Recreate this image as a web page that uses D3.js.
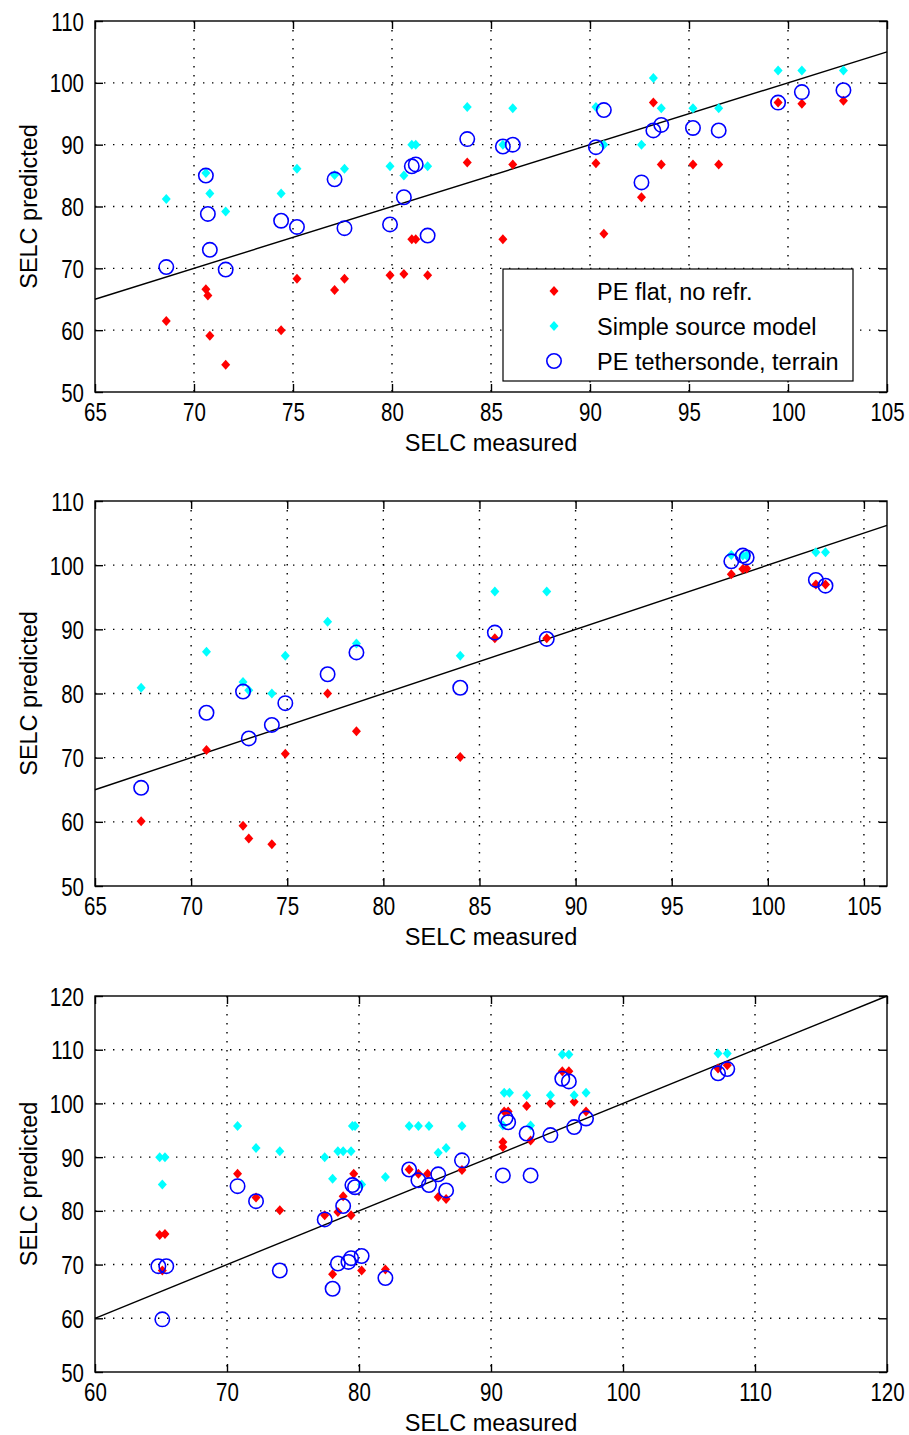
<!DOCTYPE html>
<html>
<head>
<meta charset="utf-8">
<script src="https://cdn.jsdelivr.net/npm/d3@7"></script>
<style>
  body { margin: 0; background: #fff; }
</style>
</head>
<body>
<div id="chart"></div>
<script>
// series names, as in the legend
const seriesNames = ['PE flat, no refr.', 'Simple source model', 'PE tethersonde, terrain'];

// panel 1 : [SELC measured, SELC predicted]
const p1Flat = [[68.6,61.5],[70.6,66.6],[70.7,65.6],[70.8,59.1],[71.6,54.4],[74.4,60.0],[75.2,68.3],[77.1,66.5],[77.6,68.3],[79.9,68.9],[80.6,69.1],[81.0,74.7],[81.2,74.7],[81.8,68.9],[83.8,87.1],[85.6,74.7],[86.1,86.8],[90.3,87.0],[90.7,75.6],[92.6,81.5],[93.2,96.8],[93.6,86.8],[95.2,86.8],[96.5,86.8],[99.5,96.8],[100.7,96.6],[102.8,97.1]];
const p1Simple = [[68.6,81.2],[70.6,85.4],[70.8,82.1],[71.6,79.2],[74.4,82.1],[75.2,86.1],[77.1,85.1],[77.6,86.1],[79.9,86.5],[80.6,85.0],[81.0,90.0],[81.2,90.0],[81.8,86.5],[83.8,96.1],[85.6,90.0],[86.1,95.9],[90.3,96.1],[90.7,90.0],[92.6,90.0],[93.2,100.8],[93.6,95.9],[95.2,95.9],[96.5,95.9],[99.5,102.0],[100.7,102.0],[102.8,102.0]];
const p1Teth = [[68.6,70.2],[70.6,85.0],[70.7,78.8],[70.8,73.0],[71.6,69.8],[74.4,77.7],[75.2,76.7],[77.1,84.4],[77.6,76.5],[79.9,77.1],[80.6,81.5],[81.0,86.5],[81.2,86.8],[81.8,75.3],[83.8,90.9],[85.6,89.7],[86.1,90.0],[90.3,89.6],[90.7,95.6],[92.6,83.9],[93.2,92.3],[93.6,93.2],[95.2,92.7],[96.5,92.3],[99.5,96.8],[100.7,98.5],[102.8,98.8]];

// panel 2
const p2Flat = [[67.4,60.1],[70.8,71.2],[72.7,59.4],[73.0,57.4],[74.2,56.5],[74.9,70.6],[77.1,80.0],[78.6,74.1],[84.0,70.1],[85.8,88.6],[88.5,88.6],[98.1,98.6],[98.7,99.4],[98.9,99.5],[102.5,97.0],[103.0,97.0]];
const p2Simple = [[67.4,80.9],[70.8,86.5],[72.7,81.8],[73.0,80.5],[74.2,80.0],[74.9,85.9],[77.1,91.2],[78.6,87.8],[84.0,85.9],[85.8,95.9],[88.5,95.9],[98.1,101.6],[98.7,101.5],[98.9,101.5],[102.5,102.0],[103.0,102.0]];
const p2Teth = [[67.4,65.3],[70.8,77.0],[72.7,80.3],[73.0,73.0],[74.2,75.1],[74.9,78.5],[77.1,83.0],[78.6,86.4],[84.0,80.9],[85.8,89.5],[88.5,88.5],[98.1,100.6],[98.7,101.5],[98.9,101.2],[102.5,97.7],[103.0,96.8]];

// panel 3
const p3Flat = [[64.9,75.5],[65.3,75.7],[65.1,68.9],[70.8,86.9],[72.2,82.5],[74.0,80.1],[77.4,79.2],[78.0,68.2],[78.4,79.8],[78.8,82.7],[79.4,79.2],[79.6,86.9],[80.2,68.9],[82.0,69.1],[83.8,87.7],[84.5,86.9],[85.2,86.9],[86.0,82.6],[86.6,82.2],[87.8,87.6],[90.9,92.8],[90.9,91.9],[91.0,98.5],[91.3,98.5],[92.7,99.5],[93.0,93.1],[94.5,100.0],[95.4,106.0],[95.9,106.0],[96.3,100.3],[97.2,98.5],[107.2,106.5],[107.9,107.1]];
const p3Simple = [[64.9,90.0],[65.3,90.0],[65.1,84.9],[70.8,95.8],[72.2,91.7],[74.0,91.1],[77.4,90.0],[78.0,86.0],[78.4,91.1],[78.8,91.1],[79.4,91.1],[79.5,95.8],[79.7,95.8],[80.2,84.9],[82.0,86.3],[83.8,95.8],[84.5,95.8],[85.3,95.8],[86.0,90.8],[86.6,91.7],[87.8,95.8],[90.9,95.9],[91.0,102.0],[91.4,102.0],[92.7,101.5],[93.0,95.9],[94.5,101.5],[95.4,109.1],[95.9,109.1],[96.3,101.5],[97.2,102.0],[107.2,109.3],[107.9,109.3]];
const p3Teth = [[64.8,69.7],[65.4,69.7],[65.1,59.8],[70.8,84.6],[72.2,81.8],[74.0,68.9],[77.4,78.4],[78.0,65.5],[78.4,70.2],[78.8,80.9],[79.2,70.5],[79.4,71.2],[79.5,84.8],[79.7,84.4],[80.2,71.6],[82.0,67.5],[83.8,87.7],[84.5,85.7],[85.3,84.8],[86.0,86.8],[86.6,83.8],[87.8,89.4],[90.9,86.6],[93.0,86.6],[91.1,97.3],[91.3,96.5],[92.7,94.4],[94.5,94.1],[95.4,104.6],[95.9,104.1],[96.3,95.6],[97.2,97.2],[107.2,105.6],[107.9,106.4]];

// axis domains and ticks
const p1XDomain = [65, 105], p1YDomain = [50, 110];
const p2XDomain = [65, 106.2], p2YDomain = [50, 110];
const p3XDomain = [60, 120], p3YDomain = [50, 120];
const p1XTicks = [65, 70, 75, 80, 85, 90, 95, 100, 105];
const p2XTicks = [65, 70, 75, 80, 85, 90, 95, 100, 105];
const p3XTicks = [60, 70, 80, 90, 100, 110, 120];
const p1YTicks = [50, 60, 70, 80, 90, 100, 110];
const p2YTicks = [50, 60, 70, 80, 90, 100, 110];
const p3YTicks = [50, 60, 70, 80, 90, 100, 110, 120];

const width = 909;
const height = 1435;
const left = 95;
const right = 887;
const font = "'Liberation Sans', Arial, sans-serif";
const colors = ['#ff0000', '#00ffff', '#0000ff'];

const svg = d3.select('#chart')
  .append('svg')
  .attr('width', width)
  .attr('height', height);

const diamond = 'M0,-5L4.5,0L0,5L-4.5,0Z';

const panels = [
  { top: 21, bottom: 392, xDomain: p1XDomain, yDomain: p1YDomain, xTicks: p1XTicks, yTicks: p1YTicks, series: [p1Flat, p1Simple, p1Teth], legend: true },
  { top: 501, bottom: 886, xDomain: p2XDomain, yDomain: p2YDomain, xTicks: p2XTicks, yTicks: p2YTicks, series: [p2Flat, p2Simple, p2Teth] },
  { top: 996, bottom: 1372, xDomain: p3XDomain, yDomain: p3YDomain, xTicks: p3XTicks, yTicks: p3YTicks, series: [p3Flat, p3Simple, p3Teth] }
];

// tick labels look like a narrow face: squeeze horizontally
const styleTickText = (sel) => sel.selectAll('text')
  .attr('font-size', 25)
  .attr('font-family', font)
  .attr('fill', '#000')
  .attr('transform', 'scale(0.82,1)');

function drawPanel(p) {
  const x = d3.scaleLinear().domain(p.xDomain).range([left, right]);
  const y = d3.scaleLinear().domain(p.yDomain).range([p.bottom, p.top]);
  const h = p.bottom - p.top;
  const g = svg.append('g');

  // dotted grid at the inner ticks
  const innerX = p.xTicks.filter(t => x(t) > left + 2 && x(t) < right - 2);
  const innerY = p.yTicks.filter(t => y(t) > p.top + 2 && y(t) < p.bottom - 2);
  g.append('g')
    .selectAll('line')
    .data(innerX)
    .join('line')
    .attr('x1', d => x(d)).attr('x2', d => x(d))
    .attr('y1', p.top).attr('y2', p.bottom)
    .attr('stroke', '#000').attr('stroke-width', 1.4)
    .attr('stroke-dasharray', '1.4,7.6');
  g.append('g')
    .selectAll('line')
    .data(innerY)
    .join('line')
    .attr('x1', left).attr('x2', right)
    .attr('y1', d => y(d)).attr('y2', d => y(d))
    .attr('stroke', '#000').attr('stroke-width', 1.4)
    .attr('stroke-dasharray', '1.4,7.6');

  // reference line y = x
  const line = d3.line().x(d => x(d)).y(d => y(d));
  g.append('path')
    .datum(p.xDomain)
    .attr('d', line)
    .attr('fill', 'none')
    .attr('stroke', '#000')
    .attr('stroke-width', 1.4);

  // markers: red and cyan diamonds, blue circles
  p.series.forEach((data, i) => {
    if (i < 2) {
      g.append('g')
        .selectAll('path')
        .data(data)
        .join('path')
        .attr('d', diamond)
        .attr('transform', d => `translate(${x(d[0])},${y(d[1])})`)
        .attr('fill', colors[i]);
    } else {
      g.append('g')
        .selectAll('circle')
        .data(data)
        .join('circle')
        .attr('cx', d => x(d[0]))
        .attr('cy', d => y(d[1]))
        .attr('r', 7.2)
        .attr('fill', 'none')
        .attr('stroke', colors[i])
        .attr('stroke-width', 1.6);
    }
  });

  // axes: ticks inside on all four sides
  const xAxis = g.append('g')
    .attr('transform', `translate(0,${p.bottom})`)
    .call(d3.axisBottom(x).tickValues(p.xTicks).tickSizeInner(-8).tickSizeOuter(0));
  xAxis.selectAll('text').attr('y', 29).attr('dy', null);
  styleTickText(xAxis);

  const yAxis = g.append('g')
    .attr('transform', `translate(${left},0)`)
    .call(d3.axisLeft(y).tickValues(p.yTicks).tickSizeInner(-8).tickSizeOuter(0));
  yAxis.selectAll('text').attr('x', -13.4).attr('y', 9).attr('dy', null);
  styleTickText(yAxis);

  g.append('g')
    .attr('transform', `translate(0,${p.top})`)
    .call(d3.axisTop(x).tickValues(p.xTicks).tickSizeInner(-8).tickSizeOuter(0).tickFormat(''));
  g.append('g')
    .attr('transform', `translate(${right},0)`)
    .call(d3.axisRight(y).tickValues(p.yTicks).tickSizeInner(-8).tickSizeOuter(0).tickFormat(''));

  g.selectAll('.domain').remove();
  g.selectAll('.tick line').attr('stroke', '#000').attr('stroke-width', 1.4);

  g.append('rect')
    .attr('x', left).attr('y', p.top)
    .attr('width', right - left).attr('height', h)
    .attr('fill', 'none')
    .attr('stroke', '#000')
    .attr('stroke-width', 1.4);

  // axis names
  g.append('text')
    .text('SELC measured')
    .attr('x', (left + right) / 2)
    .attr('y', p.bottom + 59)
    .attr('text-anchor', 'middle')
    .attr('font-family', font)
    .attr('font-size', 23.5);

  g.append('text')
    .text('SELC predicted')
    .attr('transform', `translate(37,${(p.top + p.bottom) / 2})rotate(-90)`)
    .attr('text-anchor', 'middle')
    .attr('font-family', font)
    .attr('font-size', 23.5);

  if (p.legend) {
    const lg = g.append('g');
    lg.append('rect')
      .attr('x', 503).attr('y', 269)
      .attr('width', 350).attr('height', 112)
      .attr('fill', '#fff')
      .attr('stroke', '#000')
      .attr('stroke-width', 1.2);
    seriesNames.forEach((name, i) => {
      const ly = 291 + i * 35;
      if (i < 2) {
        lg.append('path')
          .attr('d', diamond)
          .attr('transform', `translate(554,${ly})`)
          .attr('fill', colors[i]);
      } else {
        lg.append('circle')
          .attr('cx', 554).attr('cy', ly).attr('r', 7.2)
          .attr('fill', 'none')
          .attr('stroke', colors[i])
          .attr('stroke-width', 1.6);
      }
      lg.append('text')
        .text(name)
        .attr('x', 597)
        .attr('y', ly + 8.5)
        .attr('font-family', font)
        .attr('font-size', 23.5);
    });
  }
}

panels.forEach(drawPanel);
</script>
</body>
</html>
